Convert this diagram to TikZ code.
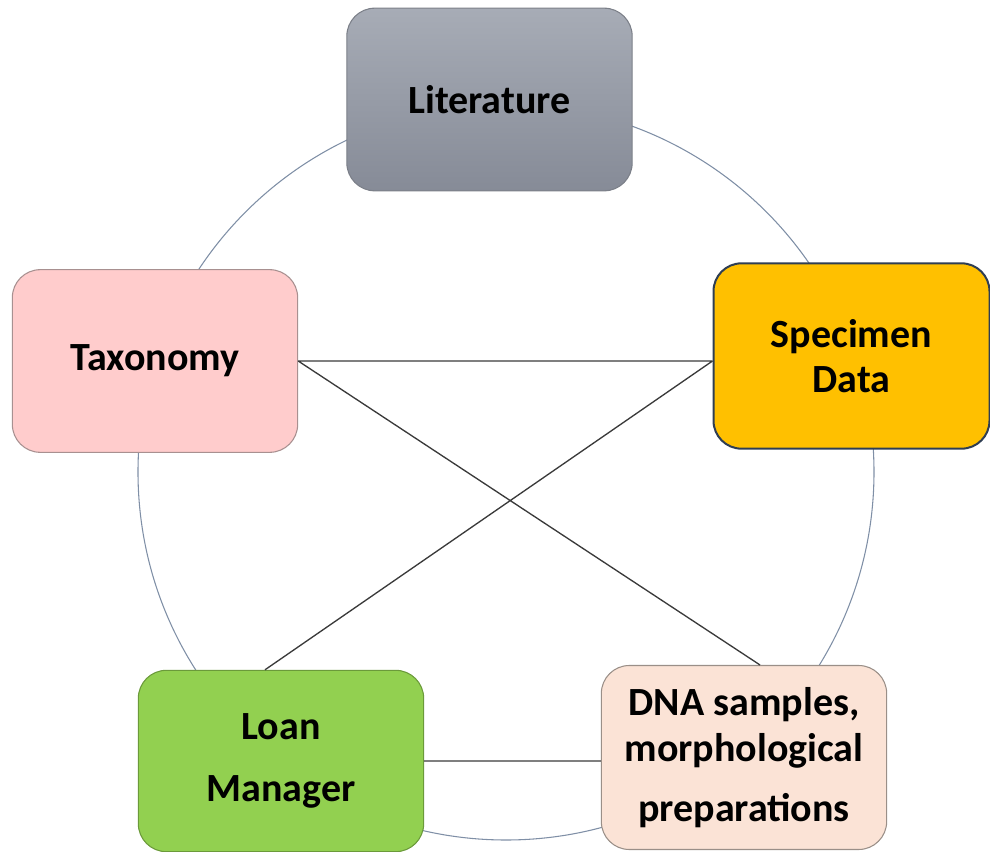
\documentclass[tikz,border=0pt]{standalone}
\usepackage{fontspec}
\setmainfont{Carlito}
\usepackage{xcolor}
\usetikzlibrary{
    calc,
    positioning
}
\definecolor{littop}{HTML}{A7ACB6}
\definecolor{litbot}{HTML}{868B97}
\definecolor{litline}{HTML}{7C8089}
\definecolor{specfill}{HTML}{FFC000}
\definecolor{specline}{HTML}{2F3E53}
\definecolor{taxfill}{HTML}{FFCCCC}
\definecolor{taxline}{HTML}{A89090}
\definecolor{loanfill}{HTML}{92D050}
\definecolor{loanline}{HTML}{6B9A3A}
\definecolor{dnafill}{HTML}{FBE3D6}
\definecolor{dnaline}{HTML}{9A8F88}
\definecolor{ringcol}{HTML}{7F8FA6}
\definecolor{linkcol}{HTML}{3A3A3A}

\begin{document}
\begin{tikzpicture}[x=0.75pt, y=-0.75pt,
    box/.style={draw, rounded corners=21pt, line width=0.8pt, align=center,
        inner sep=0pt, minimum width=214pt, minimum height=137pt,
        font=\bfseries\fontsize{30}{34}\selectfont},
    ring/.style={draw=ringcol, line width=0.8pt},
    link/.style={draw=linkcol, line width=1pt}]
    \useasboundingbox (0, 0) rectangle (990, 852);
    % the ring behind the boxes
    \draw[ring] (506, 472) circle[radius=276pt];
    \node[box, draw=litline, top color=littop, bottom color=litbot] (lit) at (489.5, 99.5) {Literature};
    \node[box, draw=specline, fill=specfill, line width=1.5pt, minimum width=207pt, minimum height=139pt] (spec) at (851.5, 356) {Specimen\\Data};
    \node[box, draw=taxline, fill=taxfill] (tax) at (155, 361) {Taxonomy};
    \node[box, draw=loanline, fill=loanfill, minimum height=136pt] (loan) at (281, 761) {Loan\\[12pt]Manager};
    \node[box, draw=dnaline, fill=dnafill, minimum height=138pt] (dna) at (744, 757.5) {DNA samples,\\morphological\\[11pt]preparations};
    % crossing links
    \draw[link]
    (tax.east) -- (tax.east -| spec.west)
    (tax.east) -- ([xshift=12pt]dna.north)
    (spec.west |- tax.east) -- ([xshift=-12pt]loan.north)
    (loan.east) -- (loan.east -| dna.west);
\end{tikzpicture}
\end{document}
